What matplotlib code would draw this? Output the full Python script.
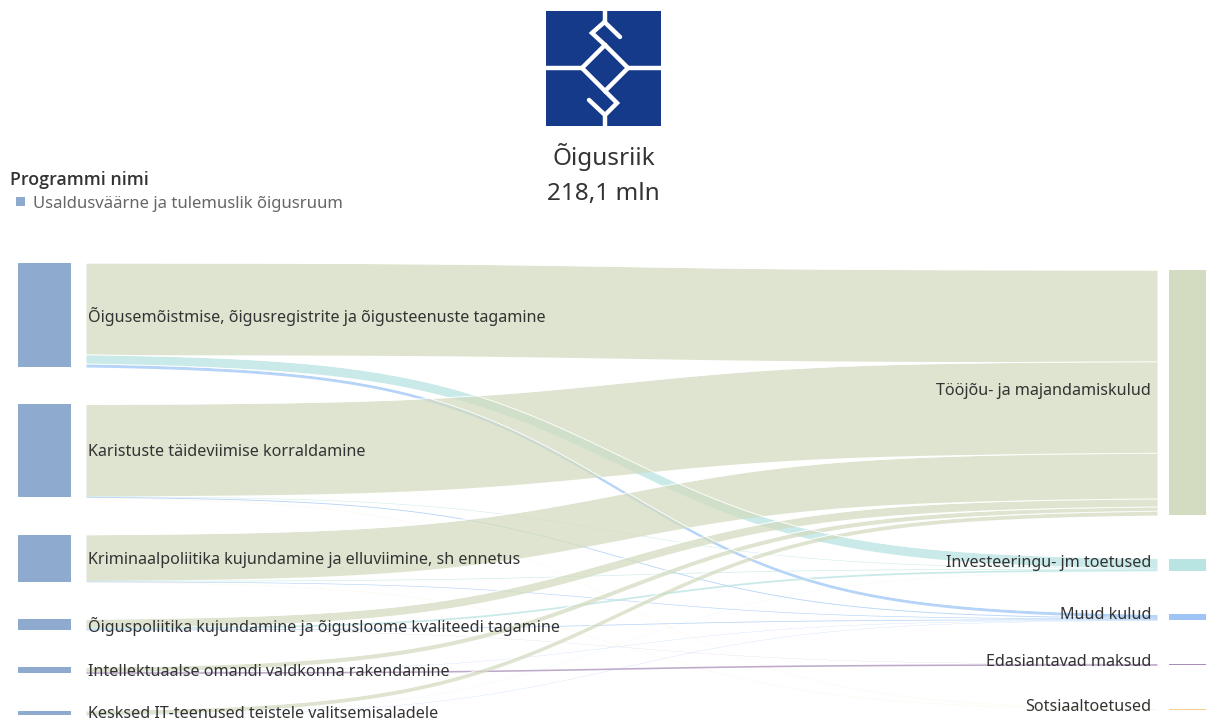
import numpy as np
import matplotlib.pyplot as plt
from matplotlib.patches import Rectangle

plt.rcParams['font.family'] = ['Noto Sans', 'DejaVu Sans']

# programs (left side) and cost types (right side)
programs = ["Õigusemõistmise, õigusregistrite ja õigusteenuste tagamine",
            "Karistuste täideviimise korraldamine",
            "Kriminaalpoliitika kujundamine ja elluviimine, sh ennetus",
            "Õiguspoliitika kujundamine ja õigusloome kvaliteedi tagamine",
            "Intellektuaalse omandi valdkonna rakendamine",
            "Kesksed IT-teenused teistele valitsemisaladele"]
cost_types = ["Tööjõu- ja majandamiskulud", "Investeeringu- jm toetused", "Muud kulud",
              "Edasiantavad maksud", "Sotsiaaltoetused"]

# mln eur per program, one list per cost type
toojou = [75.5, 75.3, 37.6, 6.6, 3.5, 3.2]
invest = [7.6, 0.4, 0.5, 1.5, 0.0, 0.1]
muud = [2.5, 0.7, 0.5, 0.6, 0.2, 0.2]
edasi = [0.0, 0.0, 0.0, 0.1, 1.3, 0.0]
sots = [0.0, 0.1, 0.1, 0.0, 0.0, 0.0]

area_name = "Õigusriik"
legend_title = "Programmi nimi"
legend_item = "Usaldusväärne ja tulemuslik õigusruum"

flows = np.array([toojou, invest, muud, edasi, sots]).T   # programs x cost types
left_tot = flows.sum(axis=1)
right_tot = flows.sum(axis=0)
total = flows.sum()

prog_color = '#8FAACF'
node_colors = ['#D3DCC0', '#B8E4E2', '#9EC5F6', '#A98CBA', '#FBCB90']
text_color = '#333333'

# layout in pixel units
W, H = 1206, 727
scale = 1.215                      # px per mln
left_top, left_bot = 263, 715
right_top, right_bot = 270, 709
left_gap = (left_bot - left_top - total * scale) / (len(programs) - 1)
right_gap = (right_bot - right_top - total * scale) / (len(cost_types) - 1)

left_y = left_top + np.concatenate([[0], np.cumsum(left_tot[:-1] * scale + left_gap)])
right_y = right_top + np.concatenate([[0], np.cumsum(right_tot[:-1] * scale + right_gap)])

fig = plt.figure(figsize=(W / 100, H / 100), dpi=100)
ax = fig.add_axes([0, 0, 1, 1])
ax.set_xlim(0, W)
ax.set_ylim(H, 0)
ax.axis('off')

# ribbons
x0, x1 = 86, 1157
xs = np.linspace(x0, x1, 300)
t = (xs - x0) / (x1 - x0)
k = 10
s = 1 / (1 + np.exp(-k * (t - 0.5)))
s = (s - s[0]) / (s[-1] - s[0])

left_off = left_y.copy()
right_off = right_y.copy()
ribbons = []
for i in range(len(programs)):
    for j in range(len(cost_types)):
        h = flows[i, j] * scale
        if h <= 0:
            continue
        ribbons.append((i, j, left_off[i], right_off[j], h))
        left_off[i] += h
        right_off[j] += h

for i, j, ya, yb, h in ribbons:
    top = ya + (yb - ya) * s
    ax.fill_between(xs, top, top + h, color=node_colors[j], alpha=0.75, lw=0, zorder=2)
    if h >= 3:
        ax.plot(xs, top, color='white', lw=0.7, alpha=0.9, zorder=2.5)

# nodes
for i in range(len(programs)):
    ax.add_patch(Rectangle((18, left_y[i]), 53, left_tot[i] * scale, color=prog_color, lw=0, zorder=3))
    ax.text(88, left_y[i] + left_tot[i] * scale / 2 + 1.5, programs[i], fontsize=11.6,
            color=text_color, va='center', ha='left', zorder=5)
for j in range(len(cost_types)):
    hh = max(right_tot[j] * scale, 1.6)
    ax.add_patch(Rectangle((1169, right_y[j]), 40, hh, color=node_colors[j], lw=0, zorder=3))
    ax.text(1151, right_y[j] + right_tot[j] * scale / 2 - 2, cost_types[j], fontsize=11.6,
            color=text_color, va='center', ha='right', zorder=5)

# logo
logo_blue = '#143A89'
rect = Rectangle((546, 11), 115, 115, color=logo_blue, lw=0, zorder=3)
ax.add_patch(rect)
paths = [
    [(604.5, 5), (604.5, 22)],
    [(604.5, 22), (620, 37)],
    [(604.5, 22), (592, 33), (605, 45)],
    [(605, 45), (628, 68), (605, 91), (582, 68), (605, 45)],
    [(540, 68), (582, 68)],
    [(628, 68), (670, 68)],
    [(605, 91), (617, 103), (605, 115), (605, 130)],
    [(605, 115), (589, 100)],
]
for p in paths:
    p = np.array(p)
    line, = ax.plot(p[:, 0], p[:, 1], color='white', lw=3.2, solid_capstyle='round',
                    solid_joinstyle='miter', zorder=4)
    line.set_clip_path(rect)

ax.text(604, 157, area_name, fontsize=17.5, color=text_color, ha='center', va='center',
        fontweight='light')
ax.text(603, 194, f"{total:.1f} mln".replace('.', ','), fontsize=17.5, color=text_color,
        ha='center', va='center', fontweight='light')

# legend
ax.text(10, 180, legend_title, fontsize=12.8, color='#333333', fontweight='semibold',
        family=['Open Sans', 'DejaVu Sans'], va='center')
ax.add_patch(Rectangle((16, 197), 9, 9, color=prog_color, lw=0))
ax.text(33, 203.5, legend_item, fontsize=12, color='#666666', va='center')

fig.savefig('out.png', dpi=100)
